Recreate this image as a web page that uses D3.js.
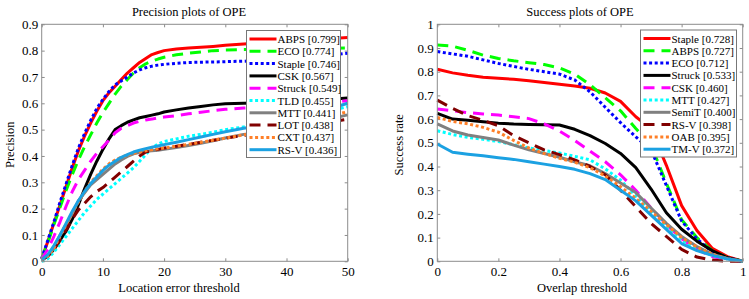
<!DOCTYPE html>
<html>
<head>
<meta charset="utf-8">
<script src="https://cdn.jsdelivr.net/npm/d3@7/dist/d3.min.js"></script>
<style>
  html, body { margin: 0; padding: 0; background: #fff; }
  svg { display: block; font-family: "Liberation Serif", "Times New Roman", serif; }
</style>
</head>
<body>
<svg id="chart" width="749" height="299"></svg>
<script>
// Precision plot: location error thresholds (pixels)
const precisionX = [0, 1, 2, 3, 4, 5, 6, 7, 8, 9, 10, 11, 12, 13, 14, 15, 16, 17, 18, 19, 20,
  22, 24, 26, 28, 30, 33, 36, 40, 45, 50];

const precisionNames = ["ABPS [0.799]", "ECO [0.774]", "Staple [0.746]", "CSK [0.567]", "Struck [0.549]",
  "TLD [0.455]", "MTT [0.441]", "LOT [0.438]", "CXT [0.437]", "RS-V [0.436]"];

const precABPS = [0.01, 0.075, 0.145, 0.215, 0.285, 0.355, 0.42, 0.475, 0.525, 0.57, 0.61, 0.64, 0.665, 0.69, 0.715, 0.735, 0.755, 0.77, 0.785, 0.793, 0.80,
  0.806, 0.81, 0.813, 0.816, 0.82, 0.825, 0.83, 0.835, 0.842, 0.85];
const precECO = [0.01, 0.07, 0.14, 0.205, 0.27, 0.33, 0.385, 0.435, 0.48, 0.525, 0.565, 0.60, 0.635, 0.665, 0.69, 0.715, 0.735, 0.75, 0.76, 0.768, 0.775,
  0.784, 0.79, 0.795, 0.80, 0.802, 0.804, 0.805, 0.806, 0.808, 0.81];
const precStaple = [0.01, 0.08, 0.15, 0.225, 0.295, 0.365, 0.43, 0.485, 0.535, 0.58, 0.615, 0.645, 0.67, 0.685, 0.70, 0.715, 0.727, 0.735, 0.741, 0.745, 0.748,
  0.752, 0.755, 0.756, 0.757, 0.758, 0.76, 0.762, 0.768, 0.778, 0.79];
const precCSK = [0.005, 0.02, 0.045, 0.08, 0.115, 0.16, 0.215, 0.275, 0.33, 0.38, 0.425, 0.465, 0.50, 0.515, 0.528, 0.537, 0.545, 0.55, 0.555, 0.56, 0.567,
  0.575, 0.582, 0.588, 0.594, 0.598, 0.60, 0.602, 0.605, 0.612, 0.62];
const precStruck = [0.01, 0.045, 0.095, 0.15, 0.21, 0.265, 0.31, 0.345, 0.38, 0.41, 0.435, 0.46, 0.488, 0.505, 0.515, 0.525, 0.532, 0.537, 0.54, 0.545, 0.548,
  0.553, 0.56, 0.566, 0.572, 0.577, 0.582, 0.585, 0.59, 0.60, 0.61];
const precTLD = [0.0, 0.01, 0.035, 0.065, 0.095, 0.125, 0.155, 0.185, 0.21, 0.235, 0.255, 0.275, 0.295, 0.315, 0.335, 0.355, 0.38, 0.405, 0.43, 0.445, 0.455,
  0.465, 0.475, 0.482, 0.49, 0.50, 0.51, 0.52, 0.535, 0.56, 0.587];
const precMTT = [0.005, 0.02, 0.05, 0.10, 0.14, 0.18, 0.23, 0.26, 0.29, 0.31, 0.33, 0.35, 0.37, 0.385, 0.398, 0.408, 0.414, 0.418, 0.42, 0.422, 0.425,
  0.432, 0.44, 0.448, 0.458, 0.468, 0.482, 0.49, 0.50, 0.53, 0.556];
const precLOT = [0.005, 0.02, 0.045, 0.08, 0.12, 0.16, 0.195, 0.22, 0.245, 0.265, 0.28, 0.30, 0.32, 0.34, 0.36, 0.38, 0.40, 0.415, 0.42, 0.425, 0.43,
  0.437, 0.444, 0.452, 0.46, 0.467, 0.478, 0.488, 0.50, 0.52, 0.54];
const precCXT = [0.005, 0.02, 0.05, 0.095, 0.14, 0.185, 0.225, 0.265, 0.30, 0.325, 0.35, 0.37, 0.385, 0.395, 0.403, 0.41, 0.415, 0.42, 0.424, 0.427, 0.43,
  0.437, 0.444, 0.452, 0.46, 0.468, 0.48, 0.49, 0.505, 0.54, 0.568];
const precRSV = [0.005, 0.025, 0.06, 0.10, 0.145, 0.19, 0.23, 0.265, 0.295, 0.32, 0.345, 0.365, 0.38, 0.395, 0.405, 0.415, 0.422, 0.428, 0.433, 0.438, 0.443,
  0.452, 0.462, 0.472, 0.482, 0.492, 0.505, 0.515, 0.53, 0.565, 0.60];

// Success plot: overlap thresholds
const successX = [0, 0.05, 0.1, 0.15, 0.2, 0.25, 0.3, 0.35, 0.4, 0.45, 0.5,
  0.55, 0.6, 0.65, 0.7, 0.75, 0.8, 0.85, 0.9, 0.95, 1];

const successNames = ["Staple [0.728]", "ABPS [0.727]", "ECO [0.712]", "Struck [0.533]", "CSK [0.460]",
  "MTT [0.427]", "SemiT [0.400]", "RS-V [0.398]", "OAB [0.395]", "TM-V [0.372]"];

const succStaple = [0.81, 0.795, 0.785, 0.777, 0.772, 0.768, 0.762, 0.754, 0.747, 0.74, 0.73, 0.71, 0.675, 0.61, 0.56, 0.405, 0.235, 0.13, 0.055, 0.02, 0];
const succABPS = [0.913, 0.908, 0.89, 0.87, 0.856, 0.846, 0.838, 0.83, 0.816, 0.79, 0.745, 0.69, 0.635, 0.56, 0.49, 0.33, 0.175, 0.10, 0.045, 0.015, 0];
const succECO = [0.885, 0.875, 0.865, 0.85, 0.835, 0.822, 0.81, 0.80, 0.79, 0.765, 0.715, 0.65, 0.585, 0.525, 0.47, 0.32, 0.17, 0.095, 0.04, 0.015, 0];
const succStruck = [0.624, 0.60, 0.595, 0.589, 0.583, 0.579, 0.577, 0.576, 0.575, 0.557, 0.53, 0.497, 0.455, 0.395, 0.305, 0.205, 0.135, 0.085, 0.045, 0.015, 0];
const succCSK = [0.643, 0.635, 0.627, 0.622, 0.617, 0.61, 0.602, 0.58, 0.55, 0.51, 0.465, 0.42, 0.365, 0.30, 0.225, 0.155, 0.095, 0.05, 0.02, 0.008, 0];
const succMTT = [0.551, 0.535, 0.523, 0.515, 0.505, 0.492, 0.478, 0.468, 0.457, 0.443, 0.428, 0.39, 0.343, 0.275, 0.21, 0.145, 0.09, 0.05, 0.025, 0.01, 0];
const succSemiT = [0.58, 0.55, 0.533, 0.522, 0.512, 0.49, 0.47, 0.455, 0.439, 0.42, 0.403, 0.37, 0.33, 0.29, 0.225, 0.16, 0.105, 0.062, 0.03, 0.012, 0];
const succRSV = [0.68, 0.645, 0.615, 0.595, 0.572, 0.53, 0.50, 0.47, 0.45, 0.428, 0.40, 0.365, 0.30, 0.23, 0.16, 0.105, 0.05, 0.018, 0.005, 0, 0];
const succOAB = [0.607, 0.59, 0.58, 0.565, 0.545, 0.51, 0.478, 0.455, 0.435, 0.418, 0.395, 0.36, 0.315, 0.265, 0.21, 0.155, 0.10, 0.06, 0.03, 0.01, 0];
const succTMV = [0.495, 0.46, 0.452, 0.445, 0.437, 0.43, 0.42, 0.41, 0.40, 0.388, 0.37, 0.345, 0.30, 0.255, 0.195, 0.135, 0.075, 0.045, 0.025, 0.01, 0];

// Tick values
const precisionXTicks = [0, 10, 20, 30, 40, 50];
const precisionYTicks = [0, 0.1, 0.2, 0.3, 0.4, 0.5, 0.6, 0.7, 0.8, 0.9];
const successXTicks = [0, 0.2, 0.4, 0.6, 0.8, 1];
const successYTicks = [0, 0.1, 0.2, 0.3, 0.4, 0.5, 0.6, 0.7, 0.8, 0.9, 1];

/*
 * Line styles (MATLAB-like): solid, dashed, dotted
 */
const dashes = { solid: null, dashed: "11,7", dotted: "3,2.6" };

const precisionStyles = [
  { color: "#ff0000", dash: "solid" },
  { color: "#00ff00", dash: "dashed" },
  { color: "#0000ff", dash: "dotted" },
  { color: "#000000", dash: "solid" },
  { color: "#ff00ff", dash: "dashed" },
  { color: "#00ffff", dash: "dotted" },
  { color: "#808080", dash: "solid" },
  { color: "#800000", dash: "dashed" },
  { color: "#ff7f27", dash: "dotted" },
  { color: "#1ba1e2", dash: "solid" }
];
const successStyles = precisionStyles;

const svg = d3.select("#chart");
svg.append("rect").attr("width", 749).attr("height", 299).attr("fill", "#fff");

const axisColor = "#8c8c8c";

function panel(opts) {
  const x = d3.scaleLinear().domain(opts.xDomain).range([opts.left, opts.right]);
  const y = d3.scaleLinear().domain(opts.yDomain).range([opts.bottom, opts.top]);

  const g = svg.append("g");

  // Bottom axis with labels, ticks pointing inward
  g.append("g")
      .attr("transform", `translate(0, ${opts.bottom})`)
      .call(d3.axisBottom(x).tickValues(opts.xTicks).tickSizeInner(-3).tickSizeOuter(0)
          .tickPadding(5.5).tickFormat(d3.format("~g")))
      .call(a => a.select(".domain").remove())
      .call(a => a.selectAll("line").attr("stroke", axisColor))
      .call(a => a.selectAll("text").attr("fill", "#000").style("font-size", "13px")
          .style("font-family", "Liberation Serif"));

  // Top axis, ticks only
  g.append("g")
      .attr("transform", `translate(0, ${opts.top})`)
      .call(d3.axisTop(x).tickValues(opts.xTicks).tickSizeInner(-3).tickSizeOuter(0).tickFormat(""))
      .call(a => a.select(".domain").remove())
      .call(a => a.selectAll("line").attr("stroke", axisColor));

  // Left axis with labels
  g.append("g")
      .attr("transform", `translate(${opts.left}, 0)`)
      .call(d3.axisLeft(y).tickValues(opts.yTicks).tickSizeInner(-3).tickSizeOuter(0)
          .tickPadding(3.5).tickFormat(d3.format("~g")))
      .call(a => a.select(".domain").remove())
      .call(a => a.selectAll("line").attr("stroke", axisColor))
      .call(a => a.selectAll("text").attr("fill", "#000").style("font-size", "13px")
          .style("font-family", "Liberation Serif"));

  // Right axis, ticks only
  g.append("g")
      .attr("transform", `translate(${opts.right}, 0)`)
      .call(d3.axisRight(y).tickValues(opts.yTicks).tickSizeInner(-3).tickSizeOuter(0).tickFormat(""))
      .call(a => a.select(".domain").remove())
      .call(a => a.selectAll("line").attr("stroke", axisColor));

  // Curves
  const line = d3.line()
      .x((d, i) => x(opts.xs[i]))
      .y(d => y(d));

  opts.series.forEach((vals, i) => {
    const st = opts.styles[i];
    g.append("path")
        .datum(vals)
        .attr("fill", "none")
        .attr("stroke", st.color)
        .attr("stroke-width", 3)
        .attr("stroke-linejoin", "round")
        .attr("stroke-dasharray", dashes[st.dash])
        .attr("d", line);
  });

  // Box
  g.append("rect")
      .attr("x", opts.left).attr("y", opts.top)
      .attr("width", opts.right - opts.left).attr("height", opts.bottom - opts.top)
      .attr("fill", "none").attr("stroke", axisColor).attr("stroke-width", 1);

  // Title and axis labels
  g.append("text")
      .attr("x", opts.titleX).attr("y", 16)
      .attr("text-anchor", "middle")
      .style("font-size", "12.5px")
      .text(opts.title);

  g.append("text")
      .attr("x", opts.xLabelX).attr("y", 292)
      .attr("text-anchor", "middle")
      .style("font-size", "12.5px")
      .text(opts.xLabel);

  g.append("text")
      .attr("transform", `translate(${opts.yLabelX}, ${(opts.top + opts.bottom) / 2 + 2}) rotate(-90)`)
      .attr("text-anchor", "middle")
      .style("font-size", "12.5px")
      .text(opts.yLabel);

  // Legend
  const lg = g.append("g").attr("transform", `translate(${opts.legendX}, ${opts.legendY})`);
  const rowH = 12.3;
  lg.append("rect")
      .attr("x", 0).attr("y", 0)
      .attr("width", opts.legendW).attr("height", rowH * opts.names.length + 4)
      .attr("fill", "#fff").attr("stroke", "#777").attr("stroke-width", 1);

  opts.names.forEach((name, i) => {
    const st = opts.styles[i];
    const cy = 8.5 + i * rowH;
    lg.append("line")
        .attr("x1", 3).attr("x2", 30)
        .attr("y1", cy).attr("y2", cy)
        .attr("stroke", st.color)
        .attr("stroke-width", 3)
        .attr("stroke-dasharray", dashes[st.dash]);
    lg.append("text")
        .attr("x", 31).attr("y", cy + 4)
        .style("font-size", "11px")
        .text(name);
  });
}

panel({
  left: 41.7, right: 347.7, top: 24.3, bottom: 261.3,
  xDomain: [0, 50], yDomain: [0, 0.9],
  xTicks: precisionXTicks, yTicks: precisionYTicks,
  xs: precisionX,
  series: [precABPS, precECO, precStaple, precCSK, precStruck, precTLD, precMTT, precLOT, precCXT, precRSV],
  styles: precisionStyles,
  names: precisionNames,
  title: "Precision plots of OPE", titleX: 189,
  xLabel: "Location error threshold", xLabelX: 179,
  yLabel: "Precision", yLabelX: 13.5,
  legendX: 246.5, legendY: 30.5, legendW: 94
});

panel({
  left: 437.3, right: 742.7, top: 24.3, bottom: 261.3,
  xDomain: [0, 1], yDomain: [0, 1],
  xTicks: successXTicks, yTicks: successYTicks,
  xs: successX,
  series: [succStaple, succABPS, succECO, succStruck, succCSK, succMTT, succSemiT, succRSV, succOAB, succTMV],
  styles: successStyles,
  names: successNames,
  title: "Success plots of OPE", titleX: 580,
  xLabel: "Overlap threshold", xLabelX: 582,
  yLabel: "Success rate", yLabelX: 402.5,
  legendX: 640.5, legendY: 30, legendW: 96
});
</script>
</body>
</html>
